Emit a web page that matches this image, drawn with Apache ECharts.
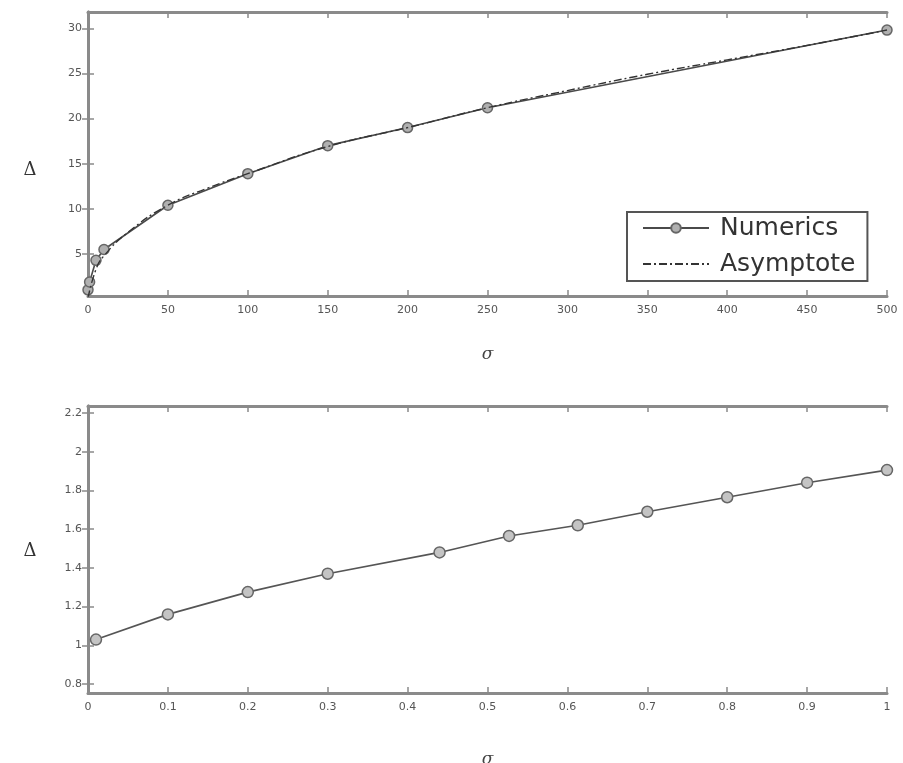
<!DOCTYPE html>
<html>
<head>
<meta charset="utf-8">
<script src="https://cdn.jsdelivr.net/npm/echarts@6/dist/echarts.min.js"></script>
<style>
  html, body { margin: 0; padding: 0; background: #fff; }
  #chart { width: 903px; height: 763px; }
</style>
</head>
<body>
<div id="chart"></div>
<script>
// top panel: sigma 0..500
var topNumerics = [[0, 1.03], [1, 1.9], [5, 4.3], [10, 5.5], [50, 10.4], [100, 13.9], [150, 17.0], [200, 19.0], [250, 21.2], [500, 29.8]];
var topAsymptote = [[0, 0.1], [5, 3.3], [10, 4.8], [25, 7.4], [50, 10.4], [75, 12.3], [100, 13.9], [150, 16.9], [200, 19.0], [250, 21.2], [300, 23.1], [350, 24.9], [400, 26.5], [450, 28.1], [500, 29.8]];
var topYTicks = [5, 10, 15, 20, 25, 30];

// bottom panel: sigma 0..1
var bottomNumerics = [[0.01, 1.03], [0.1, 1.16], [0.2, 1.275], [0.3, 1.37], [0.44, 1.48], [0.527, 1.565], [0.613, 1.62], [0.7, 1.69], [0.8, 1.765], [0.9, 1.84], [1.0, 1.905]];
var bottomYTicks = [0.8, 1, 1.2, 1.4, 1.6, 1.8, 2, 2.2];

(function() {
    var myChart = echarts.init(document.getElementById('chart'));

    var axisCol = '#8a8a8a';
    var labelCol = '#555';

    function xAx(grid, min, max, interval, pos, showLabel, name) {
        return {
            type: 'value', gridIndex: grid, position: pos,
            min: min, max: max, interval: interval,
            name: name || '', nameLocation: 'middle', nameGap: grid === 0 ? 50 : 58,
            nameTextStyle: { fontFamily: 'DejaVu Serif', fontStyle: 'italic', fontSize: 17, color: '#444' },
            axisLine: { show: true, lineStyle: { color: axisCol, width: 3 } },
            axisTick: { show: true, inside: true, length: 6, lineStyle: { color: axisCol, width: 1.5 } },
            axisLabel: { show: showLabel, color: labelCol, fontSize: 11, margin: 9, fontFamily: 'DejaVu Sans' },
            splitLine: { show: false }
        };
    }

    function yAx(grid, min, max, ticks, pos, showLabel) {
        return {
            type: 'value', gridIndex: grid, position: pos,
            min: min, max: max,
            axisLine: { show: true, lineStyle: { color: axisCol, width: 3 } },
            axisTick: { show: true, inside: true, length: 6, customValues: ticks, lineStyle: { color: axisCol, width: 1.5 } },
            axisLabel: { show: showLabel, color: labelCol, fontSize: 11, margin: 6, customValues: ticks, fontFamily: 'DejaVu Sans' },
            splitLine: { show: false }
        };
    }

    var deltaStyle = { text: 'Δ', fontFamily: 'DejaVu Serif', fontSize: 18, fill: '#333', align: 'center', verticalAlign: 'middle' };

    var option = {
        backgroundColor: '#fff',
        animation: false,
        grid: [
            { left: 88, right: 16, top: 12, height: 284, outerBoundsMode: 'none' },
            { left: 88, right: 16, top: 406, height: 287, outerBoundsMode: 'none' }
        ],
        xAxis: [
            xAx(0, 0, 500, 50, 'bottom', true, 'σ'),
            xAx(0, 0, 500, 50, 'top', false),
            xAx(1, 0, 1, 0.1, 'bottom', true, 'σ'),
            xAx(1, 0, 1, 0.1, 'top', false)
        ],
        yAxis: [
            yAx(0, 0.35, 31.8, topYTicks, 'left', true),
            yAx(0, 0.35, 31.8, topYTicks, 'right', false),
            yAx(1, 0.754, 2.236, bottomYTicks, 'left', true),
            yAx(1, 0.754, 2.236, bottomYTicks, 'right', false)
        ],
        graphic: [
            { type: 'text', x: 30, y: 170, style: deltaStyle },
            { type: 'text', x: 30, y: 551, style: deltaStyle }
        ],
        legend: {
            data: ['Numerics', { name: 'Asymptote', itemStyle: { opacity: 0 } }],
            orient: 'vertical',
            left: 627, top: 212,
            padding: [3, 12, 4, 15],
            itemGap: 10,
            itemWidth: 66, itemHeight: 12,
            borderColor: '#555', borderWidth: 2,
            backgroundColor: '#fff',
            textStyle: { fontFamily: 'DejaVu Sans', fontSize: 25, lineHeight: 26, color: '#333', padding: [0, 0, 0, 6] }
        },
        series: [
            {
                name: 'Numerics', type: 'line',
                xAxisIndex: 0, yAxisIndex: 0,
                data: topNumerics,
                symbol: 'circle', symbolSize: 10, clip: false,
                lineStyle: { color: '#4a4a4a', width: 1.6 },
                itemStyle: { color: '#b0b0b0', borderColor: '#666', borderWidth: 1.5 },
                z: 3
            },
            {
                name: 'Asymptote', type: 'line',
                xAxisIndex: 0, yAxisIndex: 0,
                data: topAsymptote,
                showSymbol: false, symbol: 'none', smooth: true,
                lineStyle: { color: '#333', width: 1.4, type: [8, 3, 2, 3] },
                itemStyle: { color: '#333' },
                z: 4
            },
            {
                name: 'bottomNumerics', type: 'line',
                xAxisIndex: 2, yAxisIndex: 2,
                data: bottomNumerics,
                symbol: 'circle', symbolSize: 11, clip: false,
                lineStyle: { color: '#555', width: 1.6 },
                itemStyle: { color: '#c4c4c4', borderColor: '#666', borderWidth: 1.5 }
            }
        ]
    };

    myChart.setOption(option);
    window.addEventListener('resize', function() {
        myChart.resize();
    });
})();
</script>
</body>
</html>
